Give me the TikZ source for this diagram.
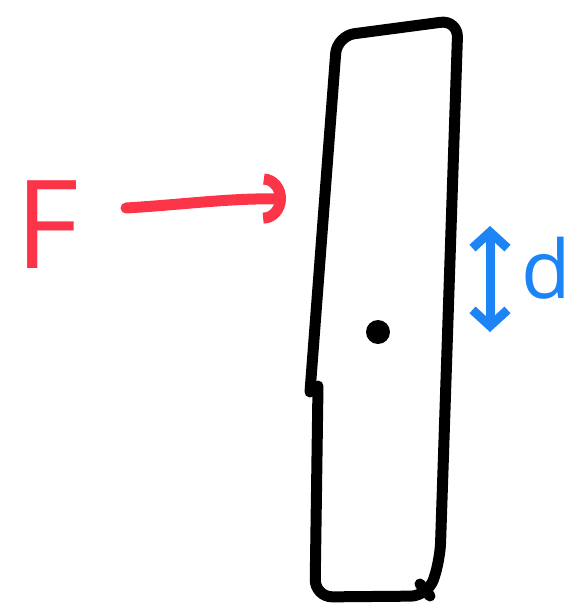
\documentclass[tikz,border=0pt]{standalone}
\usepackage{fontspec}
\setsansfont{Open Sans}
\usetikzlibrary{arrows.meta}
\definecolor{forcered}{RGB}{252,52,72}
\definecolor{distblue}{RGB}{28,132,245}

\begin{document}
\begin{tikzpicture}[x=0.02cm, y=-0.02cm,
    rodline/.style={line width=0.22cm, line cap=round, line join=round, rounded corners=0.35cm},
    forcearrow/.style={forcered, line width=0.22cm, line cap=round,
                       -{Arc Barb[length=0.45cm, width=1.0cm, line width=0.22cm]}},
    distarrow/.style={distblue, line width=0.18cm, line cap=round,
                      {Straight Barb[length=0.32cm, width=0.7cm, line width=0.18cm]}-{Straight Barb[length=0.32cm, width=0.7cm, line width=0.18cm]}},
    handlabel/.style={font=\sffamily\fontsize{70}{70}\selectfont, inner sep=0pt},
]
    \useasboundingbox (0,0) rectangle (569,613);

    % Rod
    \draw[rodline] (318,386) -- (315,597) -- (428,596) -- (440,560) -- (458,20) -- (337,36) -- (310,392);
    \draw[rodline] (420,584) -- (430,596);
    \node[circle, fill, inner sep=0pt, minimum size=0.48cm] (pivot) at (378,332) {};

    % Force
    \node[handlabel, text=forcered] (F) at (47,225) {F};
    \coordinate (ftail) at (126,208);
    \coordinate (fhead) at (286,199);
    \draw[forcearrow] (ftail) .. controls (190,204) and (230,198) .. (fhead);

    % Distance
    \node[handlabel, text=distblue, font=\sffamily\fontsize{46}{46}\selectfont] (d) at (546,268) {d};
    \coordinate (dtop) at (490,226);
    \coordinate (dbot) at (490,332);
    \draw[distarrow] (dtop) -- (dbot);
\end{tikzpicture}
\end{document}
